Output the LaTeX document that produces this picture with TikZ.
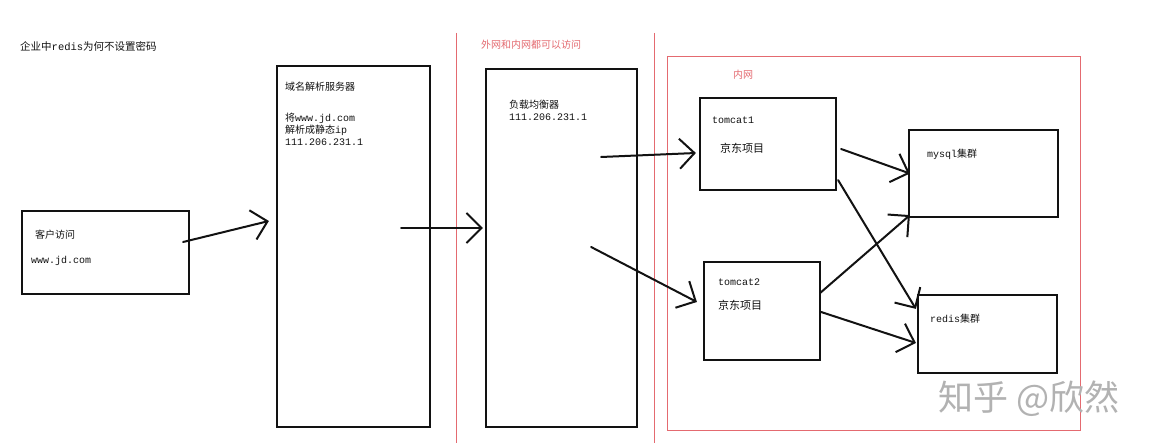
\documentclass[tikz,border=0pt]{standalone}
\usepackage{fontspec}
\setmainfont{Noto Sans CJK SC}
\setmonofont{Liberation Mono}
\usetikzlibrary{arrows.meta,positioning}
\definecolor{ink}{HTML}{121212}
\definecolor{netred}{HTML}{E46A70}
\definecolor{wmgray}{HTML}{B2B2B2}
\tikzset{
  every node/.style={font=\fontsize{10}{12}\selectfont, text=ink},
  box/.style={draw=ink, line width=2.2pt, inner sep=0pt, fill=white},
  netbox/.style={draw=netred, line width=1pt, inner sep=0pt},
  netline/.style={draw=netred, line width=1pt},
  lbl/.style={anchor=west, inner sep=0pt},
  biglbl/.style={lbl, font=\fontsize{11}{13}\selectfont},
  redlbl/.style={lbl, text=netred},
  arr/.style={-{Straight Barb[length=15pt, width=30pt]}, line width=2pt,
              draw=ink, line cap=round, line join=round},
}

\begin{document}
\begin{tikzpicture}[x=1pt, y=-1pt]

\fill[white] (0,0) rectangle (1150,443);
\useasboundingbox (0,0) rectangle (1150,443);

% zones
\draw[netline] (456,33) -- (456,443);
\draw[netline] (654,33) -- (654,443);
\node[netbox, minimum width=413pt, minimum height=373pt] (inner) at (873.5,243.5) {};

\node[lbl, font=\fontsize{10.5}{12}\selectfont] (title) at (20,46) {企业中\texttt{redis}为何不设置密码};
\node[redlbl] (outerlbl) at (481,45) {外网和内网都可以访问};
\node[redlbl] (innerlbl) at (733,75) {内网};

% boxes
\node[box, minimum width=167pt, minimum height=83pt] (client) at (105.5,252.5) {};
\node[box, minimum width=153pt, minimum height=361pt] (dns) at (353.5,246.5) {};
\node[box, minimum width=151pt, minimum height=358pt] (lb) at (561.5,248) {};
\node[box, minimum width=136pt, minimum height=92pt] (tc1) at (768,144) {};
\node[box, minimum width=116pt, minimum height=98pt] (tc2) at (762,311) {};
\node[box, minimum width=149pt, minimum height=87pt] (mysql) at (983.5,173.5) {};
\node[box, minimum width=139pt, minimum height=78pt] (redis) at (987.5,334) {};

% box texts
\node[lbl] (clienttxt) at (35,235) {客户访问};
\node[lbl] (clienturl) at (31,261) {\texttt{www.jd.com}};

\node[lbl] (dnstxt) at (285,87) {域名解析服务器};
\node[lbl, align=left] (dnsinfo) at (285,129)
  {将\texttt{www.jd.com}\\解析成静态\texttt{ip}\\\texttt{111.206.231.1}};

\node[lbl, align=left] (lbtxt) at (509,110) {负载均衡器\\\texttt{111.206.231.1}};

\node[lbl] (tc1name) at (712,120) {\texttt{tomcat1}};
\node[biglbl] (tc1txt) at (720,148) {京东项目};
\node[lbl] (tc2name) at (718,282) {\texttt{tomcat2}};
\node[biglbl] (tc2txt) at (718,305) {京东项目};

\node[lbl] (mysqltxt) at (927,154) {\texttt{mysql}集群};
\node[lbl] (redistxt) at (930,319) {\texttt{redis}集群};

% connectors
\draw[arr] ([xshift=-7pt, yshift=10.5pt]client.east) -- ([xshift=-7pt, yshift=25.5pt]dns.west);
\draw[arr] ([xshift=-30pt, yshift=18.5pt]dns.east) -- ([xshift=-2pt, yshift=20pt]lb.west);
\draw[arr] ([xshift=-37pt, yshift=91pt]lb.east) -- ([xshift=-3pt, yshift=-9pt]tc1.west);
\draw[arr] ([xshift=-47pt, yshift=1pt]lb.east) -- ([xshift=-6pt, yshift=9pt]tc2.west);
\draw[arr] ([xshift=4pt, yshift=-5pt]tc1.east) -- ([xshift=2pt]mysql.west);
\draw[arr] ([xshift=-1pt, yshift=18pt]tc2.east) -- ([xshift=2pt, yshift=3pt]mysql.south west);
\draw[arr] ([xshift=1pt, yshift=11pt]tc1.south east) -- ([xshift=-1pt, yshift=-15pt]redis.north west);
\draw[arr] ([yshift=-1pt]tc2.east) -- ([xshift=-1pt, yshift=-9pt]redis.west);

% watermark
\node[lbl, text=wmgray, font=\fontsize{35}{37}\selectfont] (wm) at (938,399) {知乎 @欣然};

\end{tikzpicture}
\end{document}
